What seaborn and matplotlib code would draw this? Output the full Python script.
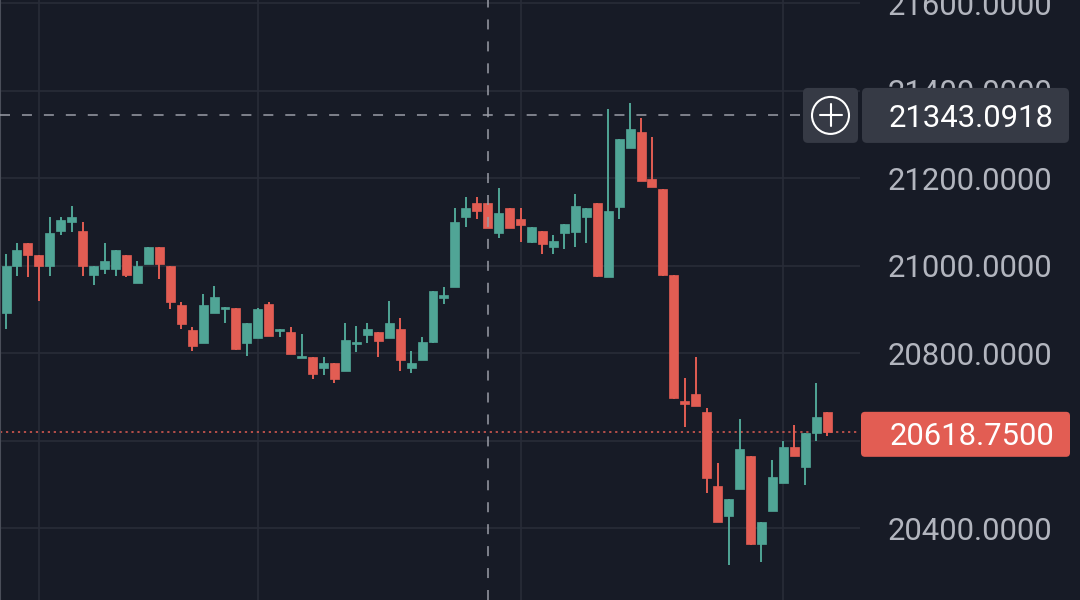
"""
Dark candlestick price chart with crosshair and last-price marker.
"""

import matplotlib
matplotlib.use('Agg')  # non-interactive backend
import matplotlib.pyplot as plt  # noqa: E402
import seaborn as sns  # noqa: E402
from matplotlib.patches import FancyBboxPatch, Circle  # noqa: E402

# OHLC values, one entry per candle (left to right)
opens = [20891, 20999, 21051, 21025, 20999, 21079, 21099, 21080, 20978, 20991,
         20991, 21025, 20959, 21004, 21043, 20999, 20910, 20853, 20822, 20891,
         20901, 20904, 20822, 20834, 20911, 20850, 20849, 20789, 20792, 20765,
         20778, 20759, 20821, 20841, 20849, 20834, 20854, 20765, 20784, 20826,
         20926, 20952, 21110, 21144, 21144, 21074, 21131, 21106, 21053, 21080,
         21042, 21074, 21077, 21110, 21144, 20973, 21134, 21268, 21306, 21198,
         21176, 20979, 20690, 20706, 20666, 20497, 20428, 20489, 20565, 20364,
         20439, 20502, 20585, 20539, 20617, 20666]
highs = [21026, 21051, 21051, 21025, 21112, 21112, 21137, 21100, 20999, 21051,
         21036, 21025, 21011, 21043, 21043, 20999, 20917, 20860, 20935, 20954,
         20906, 20904, 20868, 20904, 20917, 20856, 20860, 20843, 20792, 20792,
         20778, 20868, 20861, 20868, 20849, 20919, 20879, 20805, 20836, 20942,
         20950, 21131, 21156, 21156, 21144, 21177, 21131, 21131, 21087, 21080,
         21069, 21094, 21163, 21131, 21144, 21357, 21289, 21371, 21338, 21294,
         21176, 20979, 20742, 20792, 20674, 20548, 20466, 20649, 20565, 20414,
         20556, 20599, 20636, 20617, 20731, 20666]
lows = [20854, 20976, 20974, 20919, 20976, 21070, 21076, 20976, 20956, 20981,
        20976, 20974, 20959, 21004, 20969, 20901, 20854, 20804, 20822, 20891,
        20869, 20808, 20793, 20834, 20840, 20836, 20797, 20789, 20741, 20750,
        20731, 20759, 20803, 20824, 20792, 20834, 20760, 20754, 20784, 20824,
        20911, 20952, 21087, 21106, 21085, 21062, 21085, 21054, 21051, 21026,
        21026, 21037, 21043, 21051, 20974, 20973, 21106, 21268, 21193, 21179,
        20976, 20694, 20632, 20679, 20479, 20413, 20316, 20489, 20362, 20322,
        20439, 20502, 20565, 20498, 20599, 20610]
closes = [20999, 21035, 21023, 20999, 21075, 21104, 21112, 20999, 20999, 21011,
          21035, 20978, 20999, 21043, 21004, 20917, 20866, 20816, 20910, 20929,
          20906, 20809, 20868, 20900, 20840, 20856, 20797, 20793, 20751, 20778,
          20740, 20829, 20826, 20854, 20828, 20868, 20784, 20778, 20825, 20942,
          20932, 21100, 21131, 21125, 21085, 21119, 21085, 21092, 21087, 21049,
          21055, 21094, 21137, 21131, 20976, 21125, 21289, 21312, 21193, 21179,
          20978, 20697, 20684, 20679, 20514, 20413, 20466, 20580, 20364, 20414,
          20516, 20585, 20565, 20617, 20654, 20618.75]

price_ticks = [20400, 20600, 20800, 21000, 21200, 21400, 21600]
grid_candles = [3, 23, 47, 71]
crosshair_candle = 44
crosshair_price = 21343.0918
last_price = 20618.75

BG = '#171b26'
GRID = '#282c38'
UP = '#50a596'
DOWN = '#e25d53'
LABEL = '#b2b5be'
CROSS = '#9a9da6'
BOX = '#363a45'

sns.set_theme(style='dark', rc={
    'axes.facecolor': BG,
    'figure.facecolor': BG,
    'grid.color': GRID,
    'lines.scale_dashes': False,
})
plt.rcParams['font.family'] = ['Roboto', 'DejaVu Sans']

fig = plt.figure(figsize=(10.8, 6), dpi=100)
ax = fig.add_axes([0, 0, 860 / 1080, 1])

n = len(opens)
xs = list(range(n))
colors = [UP if c >= o else DOWN for o, c in zip(opens, closes)]
bottoms = [min(o, c) for o, c in zip(opens, closes)]
heights = [max(abs(c - o), 3) for o, c in zip(opens, closes)]

# wicks then bodies
ax.vlines(xs, lows, highs, colors=colors, linewidth=1.4, zorder=3)
ax.bar(xs, heights, bottom=bottoms, width=0.82, color=colors,
       edgecolor=colors, linewidth=0.5, zorder=4)

ax.set_xticks(grid_candles)
ax.set_yticks(price_ticks)
ax.set_yticklabels([f'{p:.4f}' for p in price_ticks])
ax.set_xlim(-0.55, 78.0)
ax.set_ylim(20235.5, 21606.9)
ax.yaxis.tick_right()
ax.tick_params(axis='y', length=0, pad=20.2, labelcolor=LABEL,
               labelsize=22.3)
ax.tick_params(axis='x', length=0, labelbottom=False)
ax.grid(True, color=GRID, linewidth=1.2)
ax.set_axisbelow(True)
for side in ['top', 'right', 'bottom']:
    ax.spines[side].set_visible(False)
ax.spines['left'].set_color('#4a4e59')
ax.spines['left'].set_linewidth(1.5)

# last price dotted line and crosshair
ax.axhline(last_price, color=DOWN, linewidth=1.1,
           linestyle=(0, (1.6, 2.7)), zorder=2)
ax.axvline(crosshair_candle, color=CROSS, linewidth=1.1,
           linestyle=(0, (7.2, 8.6)), zorder=6)
ax.axhline(crosshair_price, xmax=803 / 860, color=CROSS, linewidth=1.1,
           linestyle=(0, (7.2, 8.6)), zorder=6)

# overlay in pixel coordinates for the price-scale labels
ov = fig.add_axes([0, 0, 1, 1], zorder=5)
ov.set_xlim(0, 1080)
ov.set_ylim(600, 0)
ov.axis('off')
ov.patch.set_alpha(0)


def price_to_px(p):
    return 600 - ax.transData.transform((0, p))[1]


yc = price_to_px(crosshair_price)
ov.add_patch(FancyBboxPatch((803, yc - 27.5), 55, 55,
                            boxstyle='round,pad=0,rounding_size=5',
                            facecolor=BOX, edgecolor='none'))
ov.add_patch(FancyBboxPatch((862, yc - 27.5), 207, 55,
                            boxstyle='round,pad=0,rounding_size=5',
                            facecolor=BOX, edgecolor='none'))
ov.add_patch(Circle((830.5, yc), 18.5, facecolor='none',
                    edgecolor='white', linewidth=1.5))
ov.plot([819.5, 841.5], [yc, yc], color='white', linewidth=1.5)
ov.plot([830.5, 830.5], [yc - 11, yc + 11], color='white', linewidth=1.5)
ov.text(1054, yc, f'{crosshair_price:.4f}', ha='right',
        va='center_baseline', color='white', fontsize=22.3)

yl = price_to_px(last_price)
ov.add_patch(FancyBboxPatch((861, yl - 20.5), 209, 45,
                            boxstyle='round,pad=0,rounding_size=4',
                            facecolor=DOWN, edgecolor='none'))
ov.text(1054, yl + 1.5, f'{last_price:.4f}', ha='right',
        va='center_baseline', color='white', fontsize=22.3)

plt.savefig('out.png', dpi=100, facecolor=BG)
plt.close()
